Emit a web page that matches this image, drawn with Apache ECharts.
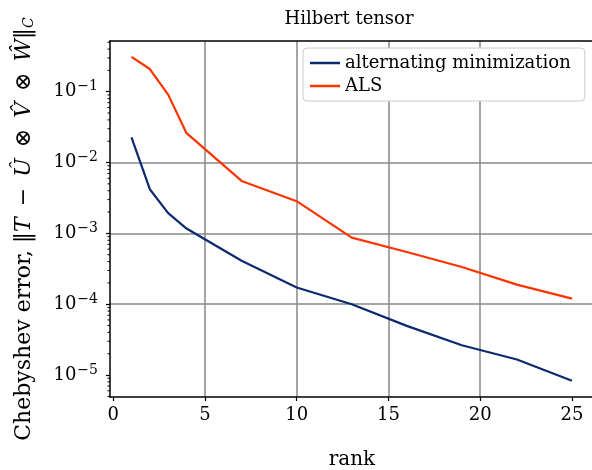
<!DOCTYPE html>
<html>
<head>
<meta charset="utf-8">
<script src="https://cdn.jsdelivr.net/npm/echarts@6/dist/echarts.min.js"></script>
<style>
  html, body { margin: 0; padding: 0; background: #fff; }
  #chart { width: 592px; height: 470px; }
</style>
</head>
<body>
<div id="chart"></div>
<script>
// ranks at which the errors were measured
const ranks = [1, 2, 3, 4, 7, 10, 13, 16, 19, 22, 25];
// Chebyshev error
const altMin = [0.0227, 0.0042, 0.00193, 0.00117, 0.00041, 0.000172, 0.0001, 0.0000495, 0.0000263, 0.0000166, 0.0000083];
const als = [0.311, 0.209, 0.091, 0.026, 0.0055, 0.00285, 0.00087, 0.000545, 0.000335, 0.000189, 0.00012];

const xTicks = [0, 5, 10, 15, 20, 25];
const yTicks = [1e-5, 1e-4, 1e-3, 1e-2, 1e-1];
const minorMult = [2, 3, 4, 5, 6, 7, 8, 9];
const decades = [1e-6, 1e-5, 1e-4, 1e-3, 1e-2, 1e-1];

const xMin = -0.17, xMax = 26.2;
const yMin = 4.9e-6, yMax = 0.52;

const serif = 'DejaVu Serif';
const fs = 18;     // ticks, legend
const fsName = 22; // y axis title
const sp = '\u2002'; // wider space around the math operators

// minor ticks of the log axis (2..9 x 10^k) inside the range
let minorTicks = [];
decades.forEach(function (d) {
  minorMult.forEach(function (m) {
    let v = m * d;
    if (v > yMin && v < yMax) minorTicks.push([xMin, v]);
  });
});

function pairs(xs, ys) {
  return xs.map(function (x, i) { return [x, ys[i]]; });
}

let chart = echarts.init(document.getElementById('chart'), null, { renderer: 'canvas' });
chart.setOption({
  animation: false,
  textStyle: { fontFamily: serif },
  title: {
    text: 'Hilbert tensor',
    left: 344, top: 5,
    textAlign: 'center',
    textStyle: { fontFamily: serif, fontSize: 18, fontWeight: 'normal', color: '#000' }
  },
  grid: { left: 110, top: 41, right: -2, bottom: 73, containLabel: false, outerBoundsMode: 'none' },
  legend: {
    data: ['alternating minimization', 'ALS'],
    orient: 'vertical',
    left: 303, top: 48,
    icon: 'rect',
    itemWidth: 30, itemHeight: 2.5,
    itemGap: 5,
    padding: [6, 14, 6, 7],
    backgroundColor: '#fff',
    borderColor: '#cccccc',
    borderWidth: 1,
    borderRadius: 4,
    textStyle: { fontFamily: serif, fontSize: fs, color: '#000' }
  },
  xAxis: [{
    type: 'value',
    min: xMin, max: xMax,
    name: 'rank',
    nameLocation: 'middle',
    nameGap: 53,
    nameTextStyle: { fontFamily: serif, fontSize: 20, color: '#000' },
    axisLine: { show: true, onZero: false, lineStyle: { color: '#000', width: 1.5 } },
    axisTick: { show: true, length: 4, customValues: xTicks, lineStyle: { color: '#000', width: 1.2 } },
    axisLabel: { customValues: xTicks, fontFamily: serif, fontSize: fs, color: '#000', margin: 9 },
    splitLine: { show: true, showMinLine: false, showMaxLine: false, lineStyle: { color: '#888', width: 1.5 } }
  }, {
    // top frame line only
    type: 'value',
    position: 'top',
    min: xMin, max: xMax,
    axisLine: { show: true, onZero: false, lineStyle: { color: '#000', width: 1.5 } },
    axisTick: { show: false },
    axisLabel: { show: false },
    splitLine: { show: false }
  }],
  yAxis: {
    type: 'log',
    logBase: 10,
    min: yMin, max: yMax,
    name: 'Chebyshev error, ‖{i|T}' + sp + '−' + sp + '{i|Û}' + sp + '⊗' + sp + '{i|V̂}' + sp + '⊗' + sp + '{i|Ŵ}‖{sub|C}',
    nameLocation: 'middle',
    nameGap: 74,
    nameTextStyle: {
      fontFamily: serif, fontSize: fsName, color: '#000',
      padding: [0, 20, 0, 0],
      rich: {
        i: { fontFamily: serif, fontStyle: 'italic', fontSize: fsName },
        sub: { fontFamily: serif, fontStyle: 'italic', fontSize: 14, padding: [9, 0, 0, 0] }
      }
    },
    axisLine: { show: true, onZero: false, lineStyle: { color: '#000', width: 1.5 } },
    axisTick: { show: true, length: 4, customValues: yTicks, lineStyle: { color: '#000', width: 1.2 } },
    axisLabel: {
      customValues: yTicks,
      margin: 12,
      color: '#000',
      formatter: function (v) {
        let e = Math.round(Math.log10(v));
        return '10{sup|' + (e < 0 ? '−' + (-e) : e) + '}';
      },
      rich: {
        sup: { fontFamily: serif, fontSize: 14, padding: [0, 0, 10, 1] }
      },
      fontFamily: serif, fontSize: fs
    },
    splitLine: { show: true, showMinLine: false, showMaxLine: false, lineStyle: { color: '#888', width: 1.5 } }
  },
  series: [
    {
      name: 'alternating minimization',
      type: 'line',
      data: pairs(ranks, altMin),
      showSymbol: false,
      color: '#0b2a6f',
      lineStyle: { width: 2.2, color: '#0b2a6f' },
      z: 3
    },
    {
      name: 'ALS',
      type: 'line',
      data: pairs(ranks, als),
      showSymbol: false,
      color: '#ff3300',
      lineStyle: { width: 2.2, color: '#ff3300' },
      z: 3
    },
    {
      name: 'minor',
      type: 'custom',
      data: minorTicks,
      clip: false,
      silent: true,
      z: 4,
      renderItem: function (params, api) {
        let p = api.coord([api.value(0), api.value(1)]);
        return {
          type: 'line',
          shape: { x1: p[0] - 2.5, y1: p[1], x2: p[0], y2: p[1] },
          style: { stroke: '#000', lineWidth: 1 }
        };
      }
    }
  ]
});
</script>
</body>
</html>
